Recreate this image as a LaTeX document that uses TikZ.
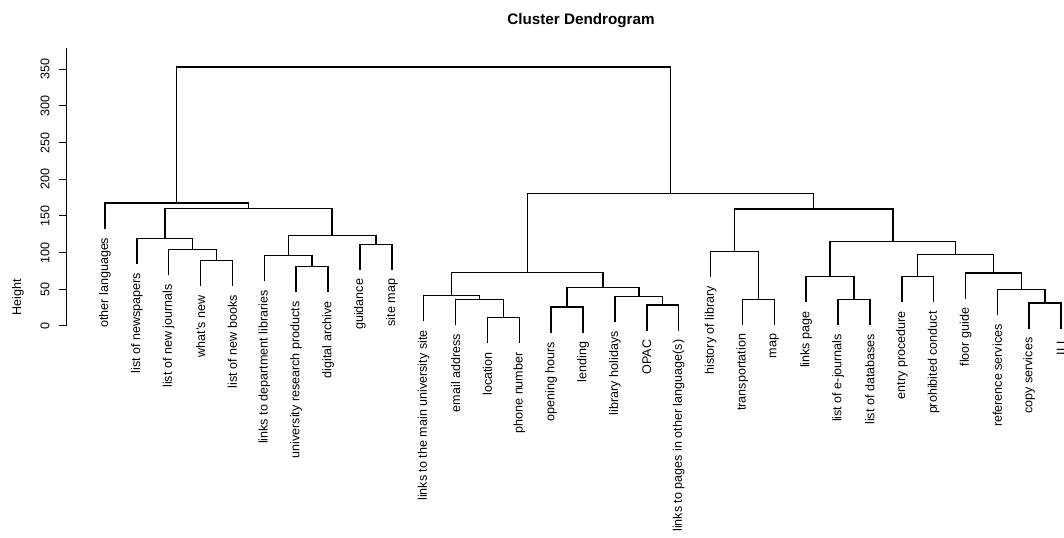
\documentclass[tikz,border=0pt]{standalone}
\usepackage{fontspec}
\setmainfont{Liberation Sans}
\usepackage{tikz}

\newcommand{\labfont}{\fontsize{12.6}{14}\selectfont}
\newcommand{\titlefont}{\fontsize{15.3}{17}\selectfont\bfseries}

\begin{document}
\begin{tikzpicture}[x=1bp, y=-1bp, font=\labfont,
    leaf/.style={rotate=90, anchor=east, inner sep=0pt, outer sep=9bp},
    ticklab/.style={rotate=90, inner sep=0pt},
    branch/.style={line width=1.5bp}]
  \useasboundingbox (0,0) rectangle (1064,538);

  \node[font=\titlefont] (title) at (581,21) {Cluster Dendrogram};

  % axis
  \draw[line width=1bp] (66,48) -- (66,326);
  \draw[line width=1bp] (59,326) -- (66,326) (59,289.3) -- (66,289.3)
    (59,252.6) -- (66,252.6) (59,216) -- (66,216) (59,179.3) -- (66,179.3)
    (59,142.6) -- (66,142.6) (59,105.9) -- (66,105.9) (59,69.2) -- (66,69.2);
  \node[ticklab] (t0) at (45,326) {0};
  \node[ticklab] (t50) at (45,289.3) {50};
  \node[ticklab] (t100) at (45,252.6) {100};
  \node[ticklab] (t150) at (45,216) {150};
  \node[ticklab] (t200) at (45,179.3) {200};
  \node[ticklab] (t250) at (45,142.6) {250};
  \node[ticklab] (t300) at (45,105.9) {300};
  \node[ticklab] (t350) at (45,69.2) {350};
  \node[ticklab] (ylab) at (18,297) {Height};

  % leaves
  \node[leaf] (n1) at (105,228.7) {other languages};
  \node[leaf] (n2) at (136.9,264) {list of newspapers};
  \node[leaf] (n3) at (168.7,275.4) {list of new journals};
  \node[leaf] (n4) at (200.6,286.4) {what's new};
  \node[leaf] (n5) at (232.5,286.4) {list of new books};
  \node[leaf] (n6) at (264.4,281.4) {links to department libraries};
  \node[leaf] (n7) at (296.2,292.4) {university research products};
  \node[leaf] (n8) at (328.1,292.4) {digital archive};
  \node[leaf] (n9) at (360,270) {guidance};
  \node[leaf] (n10) at (391.8,270) {site map};
  \node[leaf] (n11) at (423.7,321.4) {links to the main university site};
  \node[leaf] (n12) at (455.6,325) {email address};
  \node[leaf] (n13) at (487.4,343.4) {location};
  \node[leaf] (n14) at (519.3,343.4) {phone number};
  \node[leaf] (n15) at (551.2,332.7) {opening hours};
  \node[leaf] (n16) at (583,332.7) {lending};
  \node[leaf] (n17) at (614.9,322.4) {library holidays};
  \node[leaf] (n18) at (646.8,330.7) {OPAC};
  \node[leaf] (n19) at (678.7,330.7) {links to pages in other language(s)};
  \node[leaf] (n20) at (710.5,277) {history of library};
  \node[leaf] (n21) at (742.4,325) {transportation};
  \node[leaf] (n22) at (774.3,325) {map};
  \node[leaf] (n23) at (806.1,302.4) {links page};
  \node[leaf] (n24) at (838,325) {list of e-journals};
  \node[leaf] (n25) at (869.9,325) {list of databases};
  \node[leaf] (n26) at (901.8,302.4) {entry procedure};
  \node[leaf] (n27) at (933.6,302.4) {prohibited conduct};
  \node[leaf] (n28) at (965.5,298.7) {floor guide};
  \node[leaf] (n29) at (997.4,315.4) {reference services};
  \node[leaf] (n30) at (1029.2,328.7) {copy services};
  \node[leaf] (n31) at (1061.1,328.7) {ILL};

  % merge points
  \coordinate (a1) at (216.6,260.7);
  \coordinate (a2) at (192.6,249.7);
  \coordinate (a3) at (164.8,238.3);
  \coordinate (a4) at (312.2,266.7);
  \coordinate (a5) at (288.3,255.7);
  \coordinate (a6) at (375.9,244.3);
  \coordinate (a7) at (332.1,235.3);
  \coordinate (a8) at (248.4,208.7);
  \coordinate (a9) at (176.7,203);
  \coordinate (b1) at (503.4,317.7);
  \coordinate (b2) at (479.5,299.3);
  \coordinate (b3) at (451.6,295.7);
  \coordinate (b4) at (567.1,307);
  \coordinate (b5) at (662.7,305);
  \coordinate (b6) at (638.8,296.7);
  \coordinate (b7) at (603,287.7);
  \coordinate (b8) at (527.3,272.7);
  \coordinate (c1) at (758.3,299.3);
  \coordinate (c2) at (734.4,251.3);
  \coordinate (c3) at (853.9,299.3);
  \coordinate (c4) at (830,276.7);
  \coordinate (c5) at (917.7,276.7);
  \coordinate (c6) at (1045.2,303);
  \coordinate (c7) at (1021.3,289.7);
  \coordinate (c8) at (993.4,273);
  \coordinate (c9) at (955.5,254.7);
  \coordinate (c10) at (892.8,241.7);
  \coordinate (c11) at (813.6,209);
  \coordinate (c12) at (670.5,193.5);
  \coordinate (root) at (423.6,67);

  \draw[branch] (n4) |- (a1) -| (n5);
  \draw[branch] (n3) |- (a2) -| (a1);
  \draw[branch] (n2) |- (a3) -| (a2);
  \draw[branch] (n7) |- (a4) -| (n8);
  \draw[branch] (n6) |- (a5) -| (a4);
  \draw[branch] (n9) |- (a6) -| (n10);
  \draw[branch] (a5) |- (a7) -| (a6);
  \draw[branch] (a3) |- (a8) -| (a7);
  \draw[branch] (n1) |- (a9) -| (a8);

  \draw[branch] (n13) |- (b1) -| (n14);
  \draw[branch] (n12) |- (b2) -| (b1);
  \draw[branch] (n11) |- (b3) -| (b2);
  \draw[branch] (n15) |- (b4) -| (n16);
  \draw[branch] (n18) |- (b5) -| (n19);
  \draw[branch] (n17) |- (b6) -| (b5);
  \draw[branch] (b4) |- (b7) -| (b6);
  \draw[branch] (b3) |- (b8) -| (b7);

  \draw[branch] (n21) |- (c1) -| (n22);
  \draw[branch] (n20) |- (c2) -| (c1);
  \draw[branch] (n24) |- (c3) -| (n25);
  \draw[branch] (n23) |- (c4) -| (c3);
  \draw[branch] (n26) |- (c5) -| (n27);
  \draw[branch] (n30) |- (c6) -| (n31);
  \draw[branch] (n29) |- (c7) -| (c6);
  \draw[branch] (n28) |- (c8) -| (c7);
  \draw[branch] (c5) |- (c9) -| (c8);
  \draw[branch] (c4) |- (c10) -| (c9);
  \draw[branch] (c2) |- (c11) -| (c10);
  \draw[branch] (b8) |- (c12) -| (c11);

  \draw[branch] (a9) |- (root) -| (c12);
\end{tikzpicture}
\end{document}
